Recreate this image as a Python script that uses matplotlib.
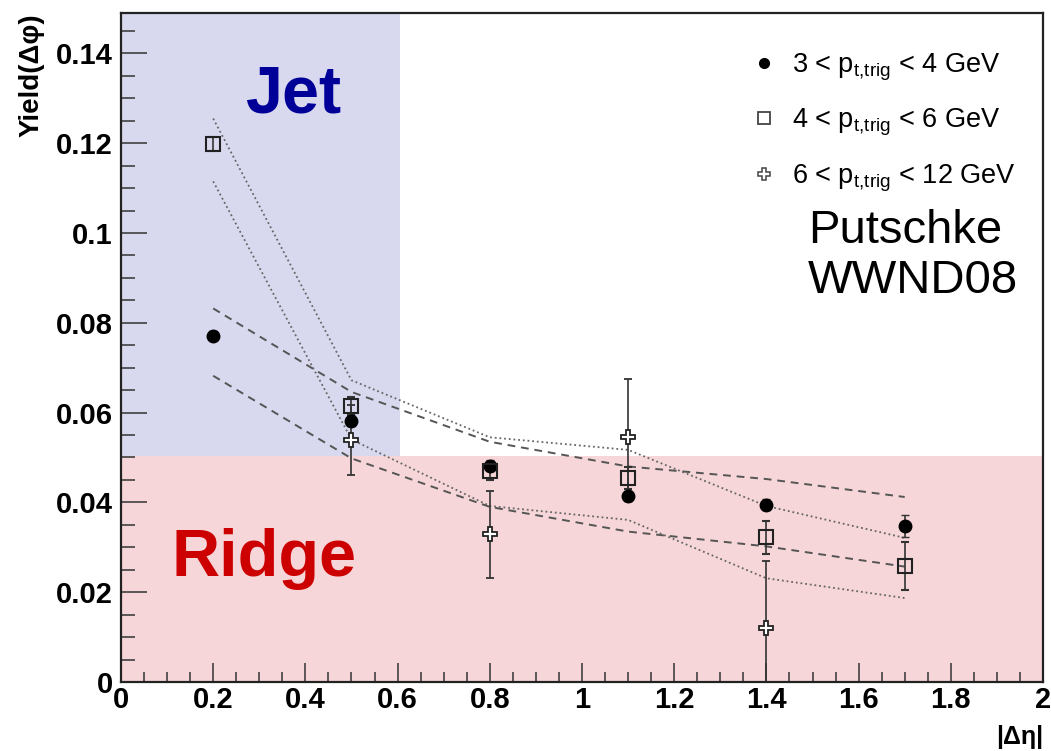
import matplotlib
matplotlib.use("Agg")
import matplotlib.pyplot as plt
from matplotlib.lines import Line2D
from matplotlib.ticker import MultipleLocator

plt.rcParams["font.family"] = ["Liberation Sans", "DejaVu Sans"]
plt.rcParams["mathtext.fontset"] = "custom"
plt.rcParams["mathtext.rm"] = "Liberation Sans"
plt.rcParams["mathtext.it"] = "Liberation Sans:italic"
plt.rcParams["mathtext.bf"] = "Liberation Sans:bold"

# |delta eta| bins
deta = [0.2, 0.5, 0.8, 1.1, 1.4, 1.7]
deta_hi = [0.5, 0.8, 1.1, 1.4]

# near-side yields per trigger pt bin
yield_3_4 = [0.0771, 0.0582, 0.0482, 0.0414, 0.0395, 0.0347]
err_3_4 = [0.0010, 0.0012, 0.0012, 0.0012, 0.0012, 0.0024]
yield_4_6 = [0.1198, 0.0615, 0.0470, 0.0454, 0.0322, 0.0258]
err_4_6 = [0.0015, 0.0020, 0.0020, 0.0025, 0.0036, 0.0053]
yield_6_12 = [0.0540, 0.0329, 0.0545, 0.0120]
err_6_12 = [0.0078, 0.0097, 0.0130, 0.0150]

# systematic bands
dash_hi = [0.0832, 0.0646, 0.0535, 0.0480, 0.0452, 0.0412]
dash_lo = [0.0682, 0.0498, 0.0390, 0.0335, 0.0302, 0.0257]
dot_hi = [0.1255, 0.0672, 0.0545, 0.0517, 0.0392, 0.0321]
dot_lo = [0.1115, 0.0540, 0.0392, 0.0361, 0.0231, 0.0187]

labels = [r"3 < p$_{\mathregular{t{,}trig}}$ < 4 GeV",
          r"4 < p$_{\mathregular{t{,}trig}}$ < 6 GeV",
          r"6 < p$_{\mathregular{t{,}trig}}$ < 12 GeV"]

X_MAX, Y_MAX = 2.0, 0.149
JET_X, RIDGE_Y = 0.606, 0.0504

fig = plt.figure(figsize=(10.51, 7.51), dpi=100)
ax = fig.add_axes([0.1151, 0.0919, 0.8773, 0.8908])

# regions
ax.axhspan(0, RIDGE_Y, color="#f6d6d8", lw=0, zorder=0)
ax.fill_between([0, JET_X], RIDGE_Y, Y_MAX, color="#d8d9ee", lw=0, zorder=0)

for band in (dash_hi, dash_lo):
    ax.plot(deta, band, color="#555555", lw=1.4, ls=(0, (4, 3)), zorder=2)
for band in (dot_hi, dot_lo):
    ax.plot(deta, band, color="#666666", lw=1.3, ls=(0, (1, 1.6)), zorder=2)

ebar = dict(ecolor="#333333", elinewidth=1.2, capsize=3, capthick=1.0, ls="none", zorder=3)
ax.errorbar(deta, yield_3_4, yerr=err_3_4, fmt="o", ms=9, mfc="black", mec="black", **ebar)
ax.errorbar(deta, yield_4_6, yerr=err_4_6, fmt="s", ms=10, mfc="none", mec="#222222", mew=1.5, **ebar)
ax.errorbar(deta_hi, yield_6_12, yerr=err_6_12, fmt="P", ms=10, mfc="white", mec="#222222", mew=1.3, **ebar)

ax.text(0.269, 0.1269, "Jet", color="#000099", fontsize=48, fontweight="bold", va="baseline")
ax.text(0.1106, 0.0235, "Ridge", color="#cc0000", fontsize=48, fontweight="bold", va="baseline")
ax.text(1.49, 0.0977, "Putschke", fontsize=34, va="baseline")
ax.text(1.49, 0.0866, "WWND08", fontsize=34, va="baseline")

handles = [
    Line2D([], [], marker="o", ls="none", ms=7, mfc="black", mec="black"),
    Line2D([], [], marker="s", ls="none", ms=8, mfc="none", mec="#444444", mew=1.3),
    Line2D([], [], marker="P", ls="none", ms=8, mfc="white", mec="#444444", mew=1.1),
]
ax.legend(handles, labels, loc="upper left", bbox_to_anchor=(0.665, 0.962), frameon=False,
          fontsize=19.5, handletextpad=0.45, labelspacing=0.88, handlelength=1.2, borderpad=0)

ax.set_xlim(0, X_MAX)
ax.set_ylim(0, Y_MAX)
ax.xaxis.set_major_locator(MultipleLocator(0.2))
ax.xaxis.set_minor_locator(MultipleLocator(0.05))
ax.yaxis.set_major_locator(MultipleLocator(0.02))
ax.yaxis.set_minor_locator(MultipleLocator(0.005))
ax.xaxis.set_major_formatter(plt.FuncFormatter(lambda v, p: f"{v:g}"))
ax.yaxis.set_major_formatter(plt.FuncFormatter(lambda v, p: f"{v:g}"))

ax.tick_params(axis="x", which="major", direction="in", length=14, width=1.1, color="#333333",
               labelsize=21, pad=3)
ax.tick_params(axis="x", which="minor", direction="in", length=7, width=1.1, color="#333333")
ax.tick_params(axis="y", which="major", direction="in", length=19, width=1.1, color="#333333",
               labelsize=21, pad=6)
ax.tick_params(axis="y", which="minor", direction="in", length=10, width=1.1, color="#333333")
for lab in ax.get_xticklabels() + ax.get_yticklabels():
    lab.set_fontweight("bold")

for sp in ax.spines.values():
    sp.set_linewidth(1.6)
    sp.set_color("#222222")
    sp.set_zorder(5)

ax.set_ylabel("Yield(Δφ)", fontsize=20, fontweight="bold", loc="top")
ax.yaxis.set_label_coords(-0.083, 1.0)
ax.set_xlabel("|Δη|", fontsize=18, fontweight="bold", loc="right")
ax.xaxis.set_label_coords(1.0, -0.064)

fig.savefig("out.png", dpi=100)
